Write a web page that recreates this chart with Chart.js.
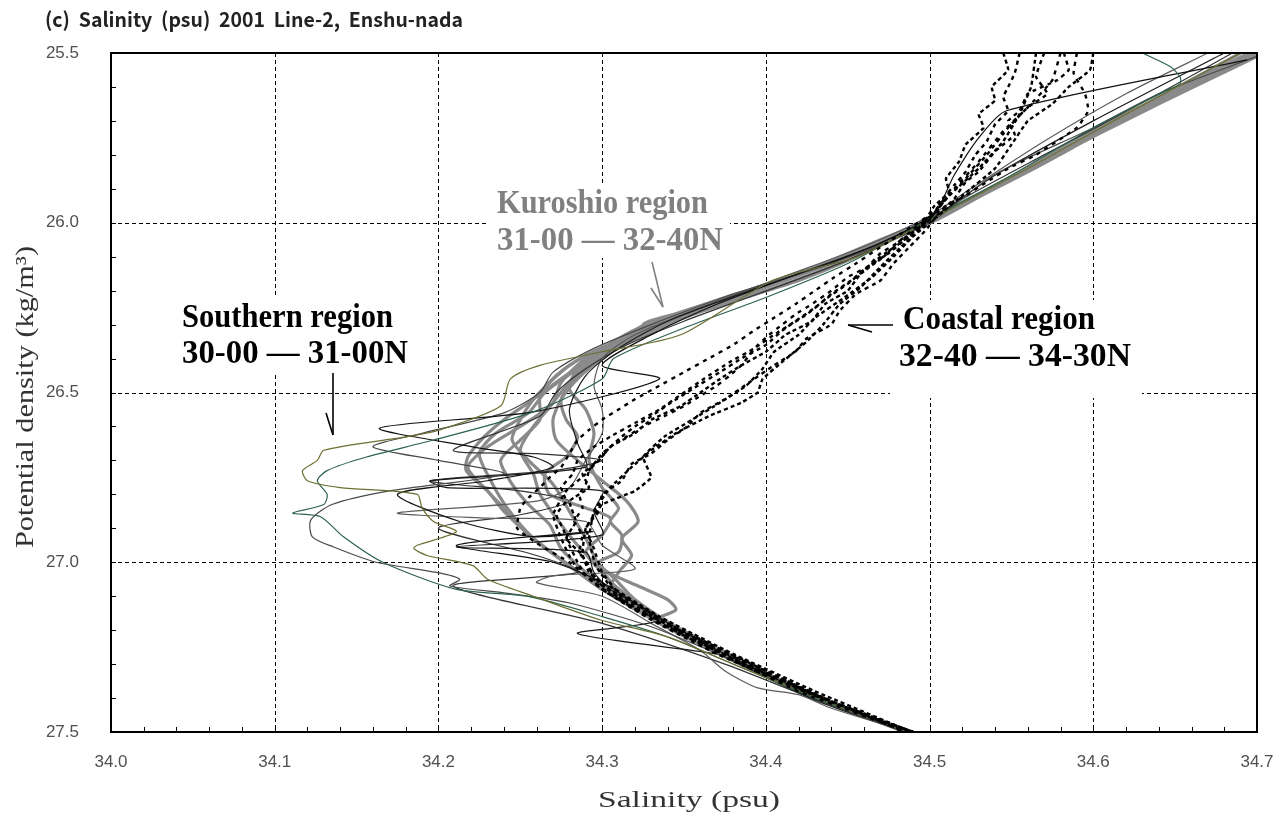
<!DOCTYPE html>
<html>
<head>
<meta charset="utf-8">
<script src="https://cdn.jsdelivr.net/npm/chart.js@4.4.1/dist/chart.umd.min.js"></script>
<style>
  html, body { margin: 0; padding: 0; background: #fff; }
  #wrap { width: 1286px; height: 827px; position: relative; }
</style>
</head>
<body>
<div id="wrap"><canvas id="c" width="1286" height="827"></canvas></div>
<script>
// axis ticks
const xTicks = [34.0, 34.1, 34.2, 34.3, 34.4, 34.5, 34.6, 34.7];
const yTicks = [25.5, 26.0, 26.5, 27.0, 27.5];

// profiles: [salinity, potential density]
// Southern region 30-00 - 31-00N (thin lines)
const southOlive = [[34.690,25.50],[34.620,25.68],[34.560,25.84],[34.505,25.98],[34.456,26.10],[34.404,26.17],[34.348,26.33],[34.300,26.38],[34.262,26.42],[34.244,26.46],[34.238,26.54],[34.201,26.61],[34.181,26.63],[34.130,26.67],[34.126,26.70],[34.117,26.73],[34.120,26.76],[34.140,26.78],[34.187,26.80],[34.190,26.84],[34.197,26.88],[34.211,26.91],[34.187,26.95],[34.185,26.96],[34.193,26.98],[34.221,27.01],[34.230,27.05],[34.258,27.10],[34.299,27.17],[34.340,27.22],[34.385,27.31],[34.432,27.40],[34.485,27.50]];
const southGreen = [[34.630,25.50],[34.647,25.54],[34.653,25.57],[34.653,25.59],[34.645,25.61],[34.600,25.72],[34.550,25.86],[34.500,25.99],[34.450,26.12],[34.400,26.22],[34.350,26.31],[34.307,26.40],[34.300,26.46],[34.258,26.557],[34.197,26.64],[34.156,26.69],[34.132,26.73],[34.126,26.76],[34.132,26.80],[34.130,26.83],[34.111,26.855],[34.128,26.866],[34.142,26.925],[34.166,27.00],[34.211,27.08],[34.254,27.10],[34.300,27.16],[34.340,27.22],[34.385,27.31],[34.430,27.40],[34.487,27.50]];
const southBlack1 = [[34.694,25.52],[34.547,25.67],[34.530,25.75],[34.515,25.86],[34.503,25.97],[34.470,26.06],[34.420,26.15],[34.370,26.24],[34.330,26.33],[34.300,26.42],[34.335,26.46],[34.258,26.557],[34.164,26.605],[34.221,26.66],[34.258,26.69],[34.270,26.72],[34.230,26.76],[34.175,26.80],[34.213,26.88],[34.258,26.925],[34.294,26.91],[34.211,26.95],[34.270,27.00],[34.300,27.06],[34.330,27.15],[34.375,27.27],[34.428,27.39],[34.486,27.50]];
const southGray1 = [[34.700,25.51],[34.640,25.62],[34.600,25.72],[34.539,25.86],[34.500,26.00],[34.440,26.12],[34.380,26.21],[34.330,26.30],[34.295,26.37],[34.270,26.44],[34.262,26.50],[34.240,26.56],[34.190,26.62],[34.160,26.66],[34.200,26.70],[34.240,26.74],[34.170,26.79],[34.135,26.83],[34.122,26.876],[34.123,26.925],[34.136,26.955],[34.162,27.00],[34.199,27.03],[34.213,27.05],[34.207,27.07],[34.240,27.09],[34.280,27.12],[34.330,27.19],[34.380,27.29],[34.430,27.40],[34.484,27.50]];
const southBlack2 = [[34.680,25.50],[34.600,25.70],[34.540,25.86],[34.500,25.99],[34.450,26.10],[34.390,26.20],[34.340,26.29],[34.310,26.37],[34.290,26.45],[34.280,26.55],[34.285,26.65],[34.290,26.72],[34.195,26.76],[34.205,26.78],[34.300,26.79],[34.295,26.85],[34.300,26.92],[34.211,26.955],[34.290,26.97],[34.295,27.03],[34.305,27.08],[34.335,27.17],[34.285,27.21],[34.370,27.27],[34.380,27.29],[34.432,27.41],[34.487,27.50]];
const southGray2 = [[34.670,25.50],[34.620,25.62],[34.570,25.76],[34.525,25.90],[34.500,25.98],[34.460,26.07],[34.410,26.16],[34.360,26.25],[34.320,26.33],[34.300,26.40],[34.295,26.48],[34.300,26.55],[34.300,26.62],[34.290,26.70],[34.280,26.78],[34.260,26.82],[34.175,26.855],[34.230,26.87],[34.290,26.88],[34.300,26.95],[34.320,27.02],[34.270,27.04],[34.260,27.06],[34.300,27.10],[34.330,27.18],[34.360,27.26],[34.375,27.32],[34.395,27.37],[34.420,27.39],[34.440,27.43],[34.487,27.50]];
const southDark = [[34.685,25.50],[34.625,25.66],[34.570,25.80],[34.520,25.93],[34.498,26.00],[34.450,26.11],[34.395,26.21],[34.350,26.29],[34.315,26.36],[34.290,26.43],[34.272,26.50],[34.262,26.57],[34.209,26.67],[34.260,26.68],[34.300,26.70],[34.270,26.73],[34.195,26.76],[34.250,26.79],[34.280,26.82],[34.250,26.86],[34.200,26.90],[34.260,26.98],[34.285,27.03],[34.209,27.07],[34.300,27.18],[34.375,27.30],[34.428,27.40],[34.486,27.50]];

// Kuroshio region 31-00 - 32-40N (thick grey lines)
const kuro1 = [[34.700,25.50],[34.650,25.62],[34.600,25.74],[34.550,25.87],[34.500,25.99],[34.450,26.10],[34.400,26.19],[34.360,26.25],[34.332,26.285],[34.325,26.30],[34.333,26.32],[34.320,26.34],[34.300,26.37],[34.280,26.42],[34.268,26.47],[34.258,26.52],[34.250,26.58],[34.245,26.64],[34.255,26.70],[34.270,26.77],[34.280,26.85],[34.290,26.93],[34.298,27.01],[34.308,27.07],[34.330,27.15],[34.365,27.24],[34.405,27.34],[34.445,27.43],[34.490,27.50]];
const kuro2 = [[34.695,25.50],[34.645,25.62],[34.596,25.74],[34.548,25.87],[34.503,25.99],[34.460,26.08],[34.410,26.17],[34.370,26.24],[34.340,26.30],[34.310,26.36],[34.290,26.42],[34.278,26.48],[34.268,26.54],[34.250,26.60],[34.230,26.66],[34.218,26.72],[34.230,26.79],[34.242,26.85],[34.258,26.93],[34.280,27.01],[34.300,27.08],[34.330,27.16],[34.370,27.26],[34.420,27.38],[34.486,27.50]];
const kuro3 = [[34.700,25.51],[34.640,25.65],[34.590,25.77],[34.540,25.89],[34.498,26.00],[34.455,26.10],[34.420,26.17],[34.380,26.23],[34.350,26.28],[34.320,26.34],[34.300,26.40],[34.285,26.46],[34.275,26.52],[34.270,26.58],[34.272,26.64],[34.285,26.70],[34.300,26.76],[34.315,26.82],[34.322,26.88],[34.312,26.93],[34.318,26.98],[34.310,27.03],[34.305,27.08],[34.332,27.16],[34.372,27.27],[34.425,27.39],[34.487,27.50]];
const kuro4 = [[34.690,25.50],[34.640,25.63],[34.590,25.76],[34.545,25.88],[34.500,26.00],[34.465,26.07],[34.425,26.14],[34.385,26.21],[34.350,26.27],[34.320,26.33],[34.290,26.40],[34.275,26.47],[34.270,26.53],[34.258,26.60],[34.250,26.67],[34.258,26.74],[34.262,26.80],[34.272,26.87],[34.285,26.95],[34.300,27.02],[34.322,27.07],[34.340,27.11],[34.345,27.14],[34.332,27.17],[34.345,27.20],[34.385,27.30],[34.430,27.40],[34.488,27.50]];
const kuro5 = [[34.700,25.50],[34.655,25.60],[34.605,25.73],[34.555,25.86],[34.505,25.98],[34.450,26.11],[34.400,26.20],[34.355,26.27],[34.315,26.34],[34.290,26.41],[34.272,26.47],[34.255,26.53],[34.240,26.58],[34.228,26.63],[34.218,26.69],[34.217,26.73],[34.230,26.79],[34.240,26.85],[34.258,26.93],[34.280,27.01],[34.295,27.06],[34.325,27.14],[34.365,27.25],[34.415,27.37],[34.485,27.50]];
const kuro6 = [[34.698,25.50],[34.648,25.62],[34.598,25.75],[34.552,25.86],[34.502,25.99],[34.452,26.09],[34.405,26.18],[34.365,26.25],[34.335,26.31],[34.305,26.38],[34.285,26.45],[34.275,26.52],[34.278,26.58],[34.285,26.63],[34.278,26.69],[34.265,26.74],[34.268,26.80],[34.290,26.84],[34.305,26.87],[34.300,26.92],[34.290,26.97],[34.302,27.04],[34.312,27.10],[34.340,27.19],[34.385,27.30],[34.432,27.40],[34.488,27.50]];
const kuro7 = [[34.700,25.50],[34.660,25.60],[34.610,25.72],[34.560,25.85],[34.510,25.97],[34.470,26.05],[34.430,26.13],[34.390,26.20],[34.350,26.26],[34.318,26.32],[34.298,26.38],[34.282,26.44],[34.265,26.50],[34.255,26.56],[34.235,26.62],[34.225,26.68],[34.232,26.76],[34.242,26.84],[34.258,26.93],[34.280,27.01],[34.300,27.08],[34.335,27.18],[34.380,27.29],[34.430,27.40],[34.486,27.50]];
const kuro8 = [[34.695,25.51],[34.645,25.63],[34.600,25.74],[34.550,25.87],[34.505,25.99],[34.455,26.09],[34.415,26.16],[34.375,26.22],[34.340,26.28],[34.305,26.36],[34.285,26.43],[34.280,26.49],[34.290,26.55],[34.295,26.62],[34.292,26.70],[34.300,26.78],[34.310,26.84],[34.305,26.88],[34.312,26.92],[34.310,26.97],[34.298,27.00],[34.308,27.05],[34.320,27.11],[34.345,27.19],[34.385,27.29],[34.432,27.40],[34.487,27.50]];
const kuro9 = [[34.700,25.50],[34.650,25.61],[34.600,25.73],[34.548,25.87],[34.498,25.99],[34.440,26.12],[34.395,26.19],[34.355,26.26],[34.330,26.29],[34.312,26.34],[34.290,26.39],[34.272,26.45],[34.262,26.51],[34.262,26.58],[34.250,26.64],[34.238,26.70],[34.245,26.77],[34.255,26.83],[34.268,26.89],[34.275,26.96],[34.290,27.03],[34.300,27.07],[34.325,27.14],[34.360,27.23],[34.410,27.35],[34.485,27.50]];

// Coastal region 32-40 - 34-30N (dotted black lines)
const coast1 = [[34.545,25.50],[34.548,25.55],[34.538,25.60],[34.540,25.64],[34.530,25.68],[34.533,25.72],[34.522,25.77],[34.518,25.82],[34.510,25.87],[34.512,25.91],[34.503,25.95],[34.495,26.01],[34.480,26.06],[34.472,26.10],[34.458,26.15],[34.450,26.20],[34.436,26.24],[34.428,26.29],[34.412,26.33],[34.400,26.38],[34.385,26.42],[34.372,26.46],[34.360,26.50],[34.348,26.54],[34.330,26.58],[34.320,26.62],[34.305,26.66],[34.298,26.70],[34.288,26.74],[34.292,26.78],[34.280,26.82],[34.284,26.88],[34.278,26.93],[34.288,26.98],[34.292,27.03],[34.305,27.08],[34.328,27.15],[34.365,27.25],[34.410,27.35],[34.450,27.43],[34.490,27.50]];
const coast2 = [[34.555,25.50],[34.552,25.56],[34.548,25.60],[34.545,25.63],[34.548,25.67],[34.540,25.71],[34.535,25.76],[34.528,25.80],[34.522,25.85],[34.515,25.89],[34.508,25.93],[34.503,25.97],[34.485,26.05],[34.475,26.09],[34.462,26.13],[34.452,26.17],[34.440,26.21],[34.430,26.25],[34.418,26.29],[34.405,26.33],[34.393,26.37],[34.378,26.41],[34.362,26.46],[34.350,26.50],[34.335,26.55],[34.320,26.59],[34.305,26.63],[34.295,26.66],[34.285,26.70],[34.282,26.74],[34.275,26.78],[34.278,26.82],[34.272,26.86],[34.276,26.90],[34.280,26.95],[34.285,27.00],[34.290,27.04],[34.310,27.11],[34.340,27.19],[34.378,27.28],[34.420,27.37],[34.485,27.50]];
const coast3 = [[34.590,25.50],[34.588,25.56],[34.595,25.62],[34.597,25.67],[34.590,25.72],[34.565,25.80],[34.548,25.84],[34.535,25.88],[34.522,25.92],[34.510,25.95],[34.490,26.02],[34.480,26.06],[34.470,26.09],[34.462,26.13],[34.450,26.16],[34.440,26.20],[34.428,26.24],[34.418,26.27],[34.410,26.30],[34.402,26.33],[34.395,26.36],[34.390,26.39],[34.385,26.42],[34.378,26.45],[34.370,26.48],[34.360,26.51],[34.350,26.54],[34.338,26.57],[34.325,26.60],[34.315,26.63],[34.305,26.66],[34.298,26.70],[34.292,26.73],[34.290,26.77],[34.286,26.80],[34.288,26.84],[34.283,26.88],[34.288,26.92],[34.286,26.97],[34.292,27.01],[34.295,27.05],[34.318,27.13],[34.355,27.22],[34.398,27.32],[34.440,27.41],[34.488,27.50]];
const coast4 = [[34.600,25.50],[34.598,25.55],[34.585,25.60],[34.575,25.65],[34.560,25.70],[34.550,25.77],[34.540,25.84],[34.520,25.92],[34.505,25.98],[34.490,26.04],[34.478,26.10],[34.465,26.16],[34.448,26.22],[34.430,26.28],[34.420,26.33],[34.405,26.38],[34.398,26.43],[34.388,26.48],[34.372,26.53],[34.355,26.58],[34.338,26.63],[34.325,26.69],[34.330,26.75],[34.320,26.79],[34.300,26.83],[34.290,26.90],[34.288,26.98],[34.298,27.06],[34.322,27.14],[34.360,27.23],[34.400,27.32],[34.445,27.42],[34.490,27.50]];
const coast5 = [[34.570,25.50],[34.565,25.57],[34.572,25.62],[34.560,25.66],[34.548,25.72],[34.535,25.80],[34.522,25.87],[34.510,25.93],[34.500,25.99],[34.482,26.06],[34.470,26.10],[34.460,26.14],[34.450,26.18],[34.438,26.22],[34.425,26.27],[34.412,26.31],[34.400,26.36],[34.385,26.40],[34.372,26.44],[34.355,26.49],[34.342,26.53],[34.330,26.57],[34.320,26.60],[34.312,26.63],[34.305,26.66],[34.300,26.68],[34.290,26.74],[34.278,26.79],[34.270,26.86],[34.275,26.93],[34.282,27.00],[34.300,27.08],[34.330,27.17],[34.370,27.27],[34.418,27.37],[34.487,27.50]];
const coast6 = [[34.580,25.50],[34.575,25.58],[34.560,25.66],[34.545,25.73],[34.530,25.82],[34.515,25.90],[34.502,25.97],[34.480,26.04],[34.455,26.12],[34.442,26.16],[34.430,26.20],[34.418,26.24],[34.405,26.28],[34.392,26.32],[34.380,26.36],[34.365,26.40],[34.350,26.44],[34.335,26.48],[34.320,26.52],[34.310,26.55],[34.300,26.58],[34.292,26.61],[34.285,26.64],[34.280,26.68],[34.275,26.72],[34.268,26.75],[34.262,26.78],[34.255,26.81],[34.250,26.84],[34.248,26.90],[34.262,26.95],[34.280,27.00],[34.300,27.08],[34.332,27.17],[34.372,27.27],[34.420,27.38],[34.486,27.50]];
const coast7 = [[34.565,25.50],[34.562,25.60],[34.555,25.68],[34.545,25.76],[34.530,25.84],[34.512,25.92],[34.498,26.00],[34.485,26.06],[34.470,26.13],[34.458,26.19],[34.445,26.24],[34.435,26.30],[34.425,26.35],[34.410,26.41],[34.398,26.46],[34.395,26.50],[34.385,26.53],[34.365,26.57],[34.345,26.62],[34.330,26.67],[34.318,26.72],[34.305,26.78],[34.295,26.85],[34.292,26.93],[34.296,27.01],[34.305,27.07],[34.335,27.16],[34.380,27.27],[34.430,27.38],[34.489,27.50]];
const coast8 = [[34.582,25.50],[34.585,25.55],[34.578,25.58],[34.560,25.62],[34.555,25.67],[34.548,25.70],[34.552,25.74],[34.540,25.79],[34.530,25.85],[34.522,25.88],[34.515,25.93],[34.506,25.97],[34.498,26.02],[34.488,26.07],[34.478,26.12],[34.470,26.17],[34.455,26.21],[34.445,26.26],[34.440,26.30],[34.425,26.34],[34.418,26.38],[34.405,26.42],[34.390,26.47],[34.375,26.52],[34.360,26.56],[34.352,26.60],[34.340,26.64],[34.330,26.68],[34.318,26.71],[34.312,26.76],[34.300,26.80],[34.298,26.85],[34.290,26.90],[34.295,26.96],[34.300,27.03],[34.310,27.09],[34.340,27.18],[34.383,27.28],[34.430,27.39],[34.490,27.50]];

const southern = [
  [southOlive, '#6e6e33'], [southGreen, '#2c634c'], [southBlack1, '#111111'],
  [southGray1, '#4a4a4a'], [southBlack2, '#1a1a1a'], [southGray2, '#5c5c5c'], [southDark, '#333333']
];
const kuroshio = [kuro1, kuro2, kuro3, kuro4, kuro5, kuro6, kuro7, kuro8, kuro9];
const coastal = [coast1, coast2, coast3, coast4, coast5, coast6, coast7, coast8];

const toPts = arr => arr.map(([s, d]) => ({ x: s, y: d }));
const datasets = [];
coastal.forEach((p, i) => datasets.push({ data: toPts(p), borderColor: '#000', borderWidth: 2.4, borderDash: [4, 3 + (i % 3)], tension: 0.1, order: 1 }));
southern.forEach(([p, c]) => datasets.push({ data: toPts(p), borderColor: c, borderWidth: 1.2, order: 2 }));
kuroshio.forEach(p => datasets.push({ data: toPts(p), borderColor: '#8a8a8a', borderWidth: 3.2, order: 3 }));

function fitText(ctx, str, x, y, font, width, color) {
  ctx.save();
  ctx.font = font;
  const w = ctx.measureText(str).width;
  ctx.translate(x, y);
  ctx.scale(width / w, 1);
  ctx.fillStyle = color;
  ctx.textBaseline = 'alphabetic';
  ctx.textAlign = 'left';
  ctx.fillText(str, 0, 0);
  ctx.restore();
}

function seg(ctx, x1, y1, x2, y2) {
  ctx.beginPath(); ctx.moveTo(x1, y1); ctx.lineTo(x2, y2); ctx.stroke();
}

const labelFont = 'bold 34px "Liberation Serif"';
const notes = [
  ['Southern region', 182, 327, 211, '#000'],
  ['30-00 \u2014 31-00N', 182, 363, 226, '#000'],
  ['Kuroshio region', 497, 213, 211, '#808080'],
  ['31-00 \u2014 32-40N', 497, 250, 226, '#808080'],
  ['Coastal region', 903, 329, 192, '#000'],
  ['32-40 \u2014 34-30N', 899, 366, 232, '#000']
];
const boxes = [[174, 298, 242, 74], [488, 184, 242, 74], [890, 300, 252, 98]];

const decor = {
  id: 'decor',
  beforeDatasetsDraw(chart) {
    const { ctx, chartArea: a, scales: { x, y } } = chart;
    ctx.save();
    ctx.strokeStyle = '#000';
    ctx.lineWidth = 1;
    ctx.setLineDash([4, 3]);
    xTicks.slice(1, -1).forEach(v => {
      const px = Math.round(x.getPixelForValue(v)) + 0.5;
      seg(ctx, px, a.top, px, a.bottom);
    });
    yTicks.slice(1, -1).forEach(v => {
      const py = Math.round(y.getPixelForValue(v)) + 0.5;
      seg(ctx, a.left, py, a.right, py);
    });
    ctx.setLineDash([]);
    ctx.fillStyle = '#fff';
    boxes.forEach(b => ctx.fillRect(b[0], b[1], b[2], b[3]));
    ctx.restore();
  },
  afterDatasetsDraw(chart) {
    const { ctx, chartArea: a, scales: { x, y } } = chart;
    ctx.save();
    // frame
    ctx.strokeStyle = '#000';
    ctx.lineWidth = 2;
    ctx.strokeRect(a.left, a.top, a.right - a.left, a.bottom - a.top);
    // minor ticks, pointing inward
    ctx.lineWidth = 1;
    for (let v = 25.6; v < 27.45; v += 0.1) {
      const py = Math.round(y.getPixelForValue(v)) + 0.5;
      seg(ctx, a.left, py, a.left + 5, py);
    }
    for (let v = 34.02; v < 34.695; v += 0.02) {
      const px = Math.round(x.getPixelForValue(v)) + 0.5;
      seg(ctx, px, a.bottom, px, a.bottom - 5);
    }
    // annotations
    notes.forEach(n => fitText(ctx, n[0], n[1], n[2], labelFont, n[3], n[4]));
    ctx.lineWidth = 1.6;
    ctx.strokeStyle = '#000';
    seg(ctx, 333, 373, 333, 435); seg(ctx, 326, 413, 333, 435);
    seg(ctx, 893, 325, 848, 325); seg(ctx, 872, 332, 848, 325);
    ctx.strokeStyle = '#808080';
    seg(ctx, 652, 262, 663, 307); seg(ctx, 651, 288, 663, 307);
    // titles
    fitText(ctx, '(c)  Salinity  (psu)  2001  Line-2,  Enshu-nada', 45, 27, 'bold 20px "Noto Sans CJK JP"', 418, '#222');
    fitText(ctx, 'Salinity (psu)', 598, 807, '24px "Liberation Serif"', 182, '#333');
    ctx.save();
    ctx.translate(33, 548);
    ctx.rotate(-Math.PI / 2);
    fitText(ctx, 'Potential density (kg/m\u00b3)', 0, 0, '25px "Liberation Serif"', 302, '#333');
    ctx.restore();
    ctx.restore();
  }
};

new Chart(document.getElementById('c'), {
  type: 'scatter',
  data: { datasets },
  options: {
    responsive: false,
    animation: false,
    events: [],
    layout: { padding: { left: 0, top: 53, right: 29, bottom: 0 } },
    elements: { point: { radius: 0 }, line: { tension: 0.25, fill: false } },
    datasets: { scatter: { showLine: true } },
    plugins: { legend: { display: false }, tooltip: { enabled: false } },
    scales: {
      x: {
        type: 'linear', min: 34.0, max: 34.7,
        afterBuildTicks: s => { s.ticks = xTicks.map(v => ({ value: v })); },
        afterFit: s => { s.height = 95; s.paddingLeft = 0; s.paddingRight = 0; },
        grid: { display: false, drawTicks: false },
        border: { display: false },
        ticks: { padding: 20, color: '#505050', font: { family: 'Liberation Sans', size: 17 }, callback: v => v.toFixed(1), maxRotation: 0 }
      },
      y: {
        type: 'linear', min: 25.5, max: 27.5, reverse: true,
        afterBuildTicks: s => { s.ticks = yTicks.map(v => ({ value: v })); },
        afterFit: s => { s.width = 111; s.paddingTop = 0; s.paddingBottom = 0; },
        grid: { display: false, drawTicks: false },
        border: { display: false },
        ticks: { padding: 32, color: '#505050', font: { family: 'Liberation Sans', size: 17 }, callback: v => v.toFixed(1) }
      }
    }
  },
  plugins: [decor]
});
</script>
</body>
</html>
